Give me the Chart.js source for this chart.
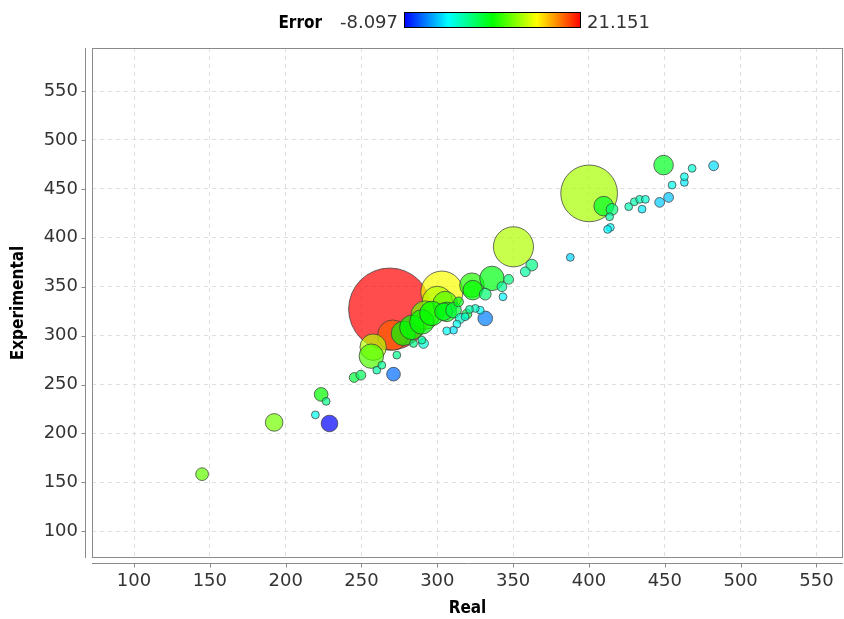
<!DOCTYPE html>
<html>
<head>
<meta charset="utf-8">
<script src="https://cdn.jsdelivr.net/npm/chart.js@4.4.0/dist/chart.umd.min.js"></script>
<style>
  html, body { margin: 0; padding: 0; background: #fff; }
</style>
</head>
<body>
<canvas id="myChart" width="844" height="619"></canvas>
<script>
// Real / Experimental pairs, biggest bubbles first so small ones sit on top
const realValues = [
  268.6, 400.1, 303.0, 350.2, 270.6, 300.0, 292.0, 257.7, 256.5, 322.8,
  336.0, 305.2, 277.7, 283.2, 289.8, 296.4, 323.4, 306.2, 409.7, 449.2,
  192.4, 304.1, 228.9, 310.7, 331.6, 223.4, 271.1, 144.9, 331.6, 415.2,
  362.3, 245.2, 249.6, 347.0, 342.6, 315.1, 319.5, 290.9, 314.0, 446.6,
  452.5, 482.2, 358.0, 226.7, 219.6, 260.1, 263.4, 273.3, 343.3, 328.3,
  325.0, 321.2, 318.3, 312.9, 310.7, 306.2, 284.3, 289.8, 413.6, 414.1,
  412.3, 426.2, 429.9, 433.4, 437.2, 435.0, 454.8, 462.9, 462.9, 468.0,
  387.7
];
const experimentalValues = [
  327.1, 445.4, 344.5, 390.8, 300.5, 335.0, 321.0, 288.2, 279.0, 351.6,
  358.5, 332.8, 302.3, 308.4, 314.0, 322.7, 346.5, 324.3, 432.4, 474.3,
  211.3, 324.4, 210.2, 326.0, 317.6, 239.9, 260.6, 158.4, 342.4, 429.0,
  372.1, 257.2, 259.6, 357.5, 350.0, 317.6, 322.0, 292.0, 334.5, 436.2,
  441.3, 473.6, 365.3, 232.8, 219.0, 264.7, 269.8, 280.1, 339.7, 326.0,
  327.8, 326.8, 319.3, 311.8, 305.6, 304.9, 292.0, 295.4, 421.5, 410.6,
  408.6, 431.8, 436.8, 439.3, 439.3, 429.3, 453.9, 456.6, 462.4, 471.0,
  380.0
];
const errorValues = [
  21.15, 11.3, 13.7, 11.6, 18.5, 11.7, 9.5, 11.8, 8.8, 7.5,
  6.0, 9.0, 6.5, 6.5, 6.5, 6.5, 6.5, 5.9, 5.5, 5.6,
  9.8, 6.0, -8.1, 4.9, -4.5, 6.6, -5.0, 9.3, 3.3, 3.3,
  2.7, 4.9, 4.0, 3.0, 2.2, 0.8, 5.0, 0.4, 6.0, -2.3,
  -2.5, -1.8, 2.0, 2.7, -0.3, 1.8, 2.4, 2.5, -1.0, -0.7,
  0.9, 1.7, 0.3, -0.4, -1.6, -0.4, 2.7, 1.9, 1.9, -0.8,
  -0.9, 1.3, 1.6, 1.4, 0.5, -1.3, -0.2, -1.4, -0.1, 0.6,
  -2.0
];
// bubble diameter, in Experimental-axis units
const bubbleSizes = [
  84, 58, 43, 41, 31, 31, 29, 27, 25, 25,
  25, 25, 25, 25, 25, 25, 20, 20, 20, 20,
  18, 18, 17, 16, 15, 14, 14, 13, 12, 12,
  12, 10, 10, 10, 10, 10, 10, 10, 10, 10,
  10, 10, 10, 8, 8, 8, 8, 8, 8, 8,
  8, 8, 8, 8, 8, 8, 8, 8, 8, 8,
  8, 8, 8, 8, 8, 8, 8, 8, 8, 8,
  8
];

const errorMin = -8.097;
const errorMax = 21.151;
const errorLabel = "Error";
const xTitle = "Real";
const yTitle = "Experimental";

const tickFont = "18px 'DejaVu Sans', sans-serif";
const titleFont = "bold 17px 'DejaVu Sans Condensed', 'Liberation Sans Narrow', 'Liberation Sans', sans-serif";

const hueFor = (e) => {
  let t = (e - errorMin) / (errorMax - errorMin);
  t = Math.min(1, Math.max(0, t));
  return 240 * (1 - t);
};

const bubbleColor = (ctx) => {
  if (ctx.dataIndex === undefined) return 'rgba(0,0,0,0)';
  return `hsla(${hueFor(errorValues[ctx.dataIndex])},100%,50%,0.7)`;
};

// axis lines, tick marks, titles and the colour-scale legend
const frame = {
  id: 'frame',
  afterDraw(chart) {
    const ctx = chart.ctx;
    const a = chart.chartArea;
    const xs = chart.scales.x;
    const ys = chart.scales.y;
    ctx.save();
    ctx.strokeStyle = '#8a8a8a';
    ctx.lineWidth = 1;
    ctx.strokeRect(a.left + 0.5, a.top + 0.5, a.right - a.left - 1, a.bottom - a.top - 1);

    const axX = a.left - 6.5;
    const axY = a.bottom + 5.5;
    ctx.beginPath();
    ctx.moveTo(axX, a.top);
    ctx.lineTo(axX, a.bottom);
    ctx.moveTo(a.left, axY);
    ctx.lineTo(a.right, axY);
    ys.ticks.forEach(t => {
      const p = Math.round(ys.getPixelForValue(t.value)) + 0.5;
      ctx.moveTo(axX - 4, p);
      ctx.lineTo(axX, p);
    });
    xs.ticks.forEach(t => {
      const p = Math.round(xs.getPixelForValue(t.value)) + 0.5;
      ctx.moveTo(p, axY);
      ctx.lineTo(p, axY + 4);
    });
    ctx.stroke();

    ctx.fillStyle = '#000';
    ctx.font = titleFont;
    ctx.textAlign = 'center';
    ctx.textBaseline = 'middle';
    ctx.fillText(xTitle, (a.left + a.right) / 2, 609);
    ctx.save();
    ctx.translate(19, (a.top + a.bottom) / 2);
    ctx.rotate(-Math.PI / 2);
    ctx.fillText(yTitle, 0, 0);
    ctx.restore();

    // colour scale legend
    const barL = 404, barR = 581, barT = 12, barB = 28;
    ctx.textBaseline = 'alphabetic';
    ctx.textAlign = 'right';
    ctx.font = titleFont;
    ctx.fillStyle = '#000';
    ctx.fillText(errorLabel, 322, 28);
    ctx.font = tickFont;
    ctx.fillStyle = '#333';
    ctx.fillText(errorMin.toFixed(3), 398, 28);
    ctx.textAlign = 'left';
    ctx.fillText(errorMax.toFixed(3), 587, 28);
    const g = ctx.createLinearGradient(barL, 0, barR, 0);
    for (let i = 0; i <= 8; i++) {
      const t = i / 8;
      g.addColorStop(t, `hsl(${240 * (1 - t)},100%,50%)`);
    }
    ctx.fillStyle = g;
    ctx.fillRect(barL, barT, barR - barL, barB - barT);
    ctx.strokeStyle = '#000';
    ctx.strokeRect(barL + 0.5, barT + 0.5, barR - barL - 1, barB - barT - 1);
    ctx.restore();
  }
};

const points = realValues.map((x, i) => ({ x: x, y: experimentalValues[i] }));

const myChart = new Chart(document.getElementById('myChart').getContext('2d'), {
  type: 'bubble',
  data: {
    datasets: [{
      data: points,
      backgroundColor: bubbleColor,
      borderColor: 'rgba(60,60,60,0.75)',
      borderWidth: 1
    }]
  },
  options: {
    responsive: false,
    animation: false,
    devicePixelRatio: 1,
    events: [],
    layout: { autoPadding: false, padding: { top: 48, right: 1, left: 0, bottom: 0 } },
    plugins: { legend: { display: false }, tooltip: { enabled: false } },
    scales: {
      x: {
        type: 'linear',
        min: 72.3,
        max: 567.5,
        afterFit: (s) => { s.height = 61; s.paddingLeft = 0; s.paddingRight = 0; },
        grid: { color: '#dedede', drawTicks: false },
        border: { display: false, dash: [4, 4] },
        ticks: {
          stepSize: 50,
          includeBounds: false,
          padding: 13,
          color: '#333',
          font: { family: "'DejaVu Sans', sans-serif", size: 18 }
        }
      },
      y: {
        type: 'linear',
        min: 72.7,
        max: 594,
        afterFit: (s) => { s.width = 92; s.paddingTop = 0; s.paddingBottom = 0; },
        grid: { color: '#dedede', drawTicks: false },
        border: { display: false, dash: [4, 4] },
        ticks: {
          stepSize: 50,
          includeBounds: false,
          padding: 14,
          color: '#333',
          font: { family: "'DejaVu Sans', sans-serif", size: 18 }
        }
      }
    }
  },
  plugins: [frame]
});

// bubble radius follows the Experimental axis scale
const yScale = myChart.scales.y;
const pxPerUnit = Math.abs(yScale.getPixelForValue(0) - yScale.getPixelForValue(1));
myChart.data.datasets[0].data = points.map((p, i) => ({ x: p.x, y: p.y, r: bubbleSizes[i] * pxPerUnit / 2 }));
myChart.update('none');
</script>
</body>
</html>
